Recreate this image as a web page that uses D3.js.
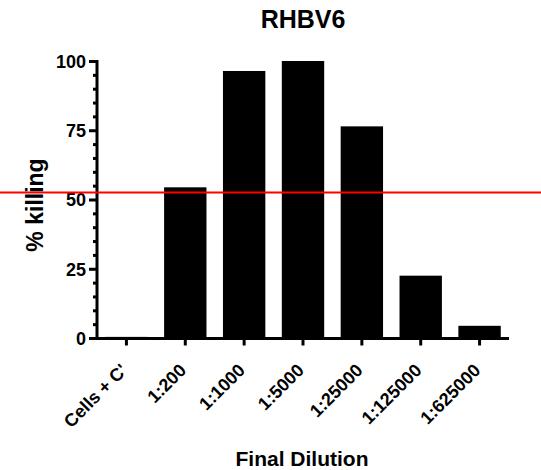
<!DOCTYPE html>
<html><head><meta charset="utf-8">
<script src="https://cdn.jsdelivr.net/npm/d3@7"></script>
<style>body{margin:0;background:#fff}svg{display:block}text{font-family:"Liberation Sans",Arial,sans-serif;font-weight:bold}</style>
</head><body>
<svg id="c" width="541" height="470"></svg>
<script>
const categories = ["Cells + C'", "1:200", "1:1000", "1:5000", "1:25000", "1:125000", "1:625000"];
const values = [0.4, 54.4, 96.4, 100, 76.4, 22.5, 4.4];
const yTicks = [0, 25, 50, 75, 100];
const refLine = 52.5;
const title = "RHBV6";
const xTitle = "Final Dilution";
const yTitle = "% killing";

const svg = d3.select("#c");
const x = d3.scaleBand().domain(categories).range([97, 509]).paddingInner(0.28).paddingOuter(0.14);
const y = d3.scaleLinear().domain([0, 100]).range([338, 61]);

// bars
svg.append("g").selectAll("rect").data(values).join("rect")
  .attr("x", (d, i) => x(categories[i]))
  .attr("y", d => y(d))
  .attr("width", x.bandwidth())
  .attr("height", d => y(0) - y(d))
  .attr("fill", "#000");

// y axis
const yAxis = svg.append("g").attr("transform", "translate(97,0)")
  .call(d3.axisLeft(y).tickValues(yTicks).tickSize(8).tickPadding(3));
const yMinor = svg.append("g").attr("transform", "translate(97,0)")
  .call(d3.axisLeft(y).tickValues(d3.range(0, 101, 5).filter(v => v % 25 !== 0)).tickSize(4).tickFormat(""));
[yAxis, yMinor].forEach(g => {
  g.select(".domain").attr("stroke", "#000").attr("stroke-width", 3).attr("d", "M0," + (y(0) + 1.5) + "V" + (y(100) - 1));
  g.selectAll(".tick line").attr("stroke", "#000").attr("stroke-width", 3);
});
yMinor.select(".domain").remove();
yAxis.selectAll(".tick text").attr("font-size", 18).attr("fill", "#000").attr("dy", "0.36em");

// x axis
const xAxis = svg.append("g").attr("transform", "translate(0,338.5)")
  .call(d3.axisBottom(x).tickSize(7).tickPadding(2));
xAxis.select(".domain").attr("stroke", "#000").attr("stroke-width", 3).attr("d", "M95.5,0H509");
xAxis.selectAll(".tick line").attr("stroke", "#000").attr("stroke-width", 3);
xAxis.selectAll(".tick text").attr("font-size", 18).attr("fill", "#000")
  .attr("text-anchor", "end").attr("dy", null).attr("y", 0)
  .attr("transform", "translate(2,33) rotate(-45)");

// reference line
svg.append("line").attr("x1", 0).attr("x2", 541)
  .attr("y1", y(refLine)).attr("y2", y(refLine))
  .attr("stroke", "#ff0000").attr("stroke-width", 2);

// titles
svg.append("text").attr("x", 303).attr("y", 28).attr("text-anchor", "middle").attr("font-size", 25).text(title);
svg.append("text").attr("x", 302).attr("y", 466).attr("text-anchor", "middle").attr("font-size", 21).text(xTitle);
svg.append("text").attr("transform", "translate(43,205) rotate(-90)").attr("text-anchor", "middle").attr("font-size", 23).text(yTitle);
</script>
</body></html>
